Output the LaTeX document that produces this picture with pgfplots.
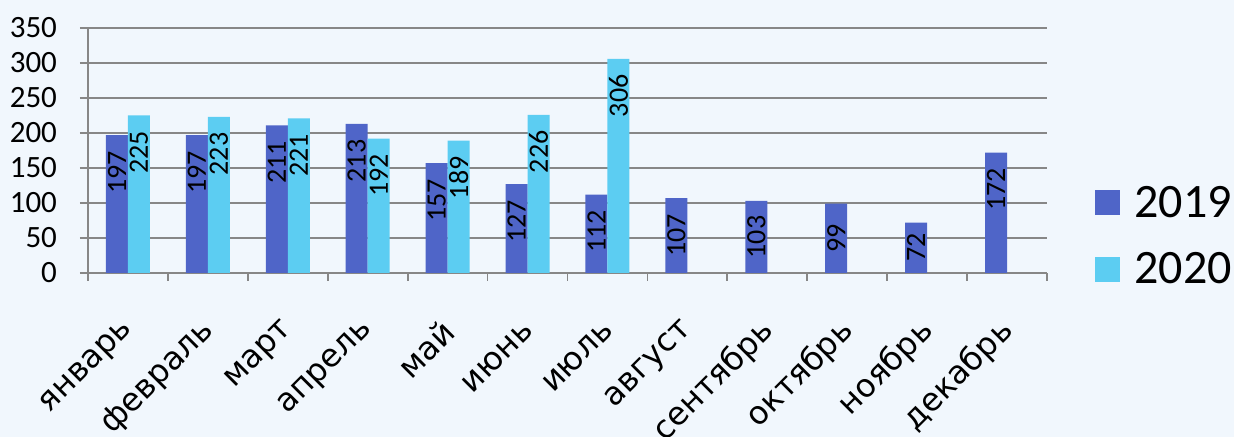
\documentclass[border=0pt]{standalone}
\usepackage{pgfplots}
\pgfplotsset{compat=1.18}
\usepackage{fontspec}
\setmainfont{Carlito}
\newfontfamily\monthfont{DejaVu Sans}

\definecolor{bgcol}{RGB}{241,247,253}
\definecolor{gridgray}{RGB}{135,135,135}
\definecolor{c2019}{RGB}{79,101,200}
\definecolor{c2020}{RGB}{92,205,242}

\begin{document}
\begin{tikzpicture}
\useasboundingbox (-44pt,-82pt) rectangle (573pt,136.5pt);
\fill[bgcol] (-44pt,-82pt) rectangle (573pt,136.5pt);
\begin{axis}[
    at={(0pt,0pt)}, anchor=south west,
    scale only axis, width=479.5pt, height=122.5pt,
    ybar=0pt, bar width=11pt,
    xmin=-0.5, xmax=11.5, ymin=0, ymax=350,
    ytick={0,50,...,350},
    xtick={0,...,11},
    xticklabels={январь,февраль,март,апрель,май,июнь,июль,август,сентябрь,октябрь,ноябрь,декабрь},
    minor xtick={-0.5,0.5,...,11.5},
    axis x line*=bottom, axis y line*=left,
    axis line style={draw=gridgray, line width=0.9pt, -},
    ymajorgrids, grid style={gridgray, line width=0.9pt},
    tick align=outside,
    major tick length=4pt, minor tick length=4pt,
    tick style={gridgray, line width=0.9pt},
    major x tick style={draw=none},
    /pgf/number format/assume math mode=true,
    yticklabel style={font=\fontsize{15.5}{15.5}\selectfont, xshift=-8pt},
    xticklabel style={font=\monthfont\fontsize{16}{16}\selectfont, yshift=-20pt, xshift=3pt, rotate=45, anchor=east},
    visualization depends on={rawy \as \rawy},
    nodes near coords,
    nodes near coords align=center,
    every node near coord/.append style={font=\fontsize{14}{14}\selectfont, yshift={-0.35*min(\rawy/2,53)}, rotate=90, anchor=center},
    legend style={at={(1,0.151)}, anchor=west, xshift=24pt, draw=none, fill=none,
        font=\fontsize{24}{26}\selectfont, row sep=12pt, column sep=5pt, inner sep=0pt},
    legend image code/.code={\fill[#1] (0pt,-6.25pt) rectangle (12.5pt,6.25pt);},
    legend cell align=left,
]
\addplot[fill=c2019, draw=none] coordinates {
(0,197) (1,197) (2,211) (3,213) (4,157) (5,127) (6,112) (7,107) (8,103) (9,99) (10,72) (11,172)};
\addlegendentry{2019}
\addplot[fill=c2020, draw=none] coordinates {
(0,225) (1,223) (2,221) (3,192) (4,189) (5,226) (6,306)};
\addlegendentry{2020}
\end{axis}
\end{tikzpicture}
\end{document}
